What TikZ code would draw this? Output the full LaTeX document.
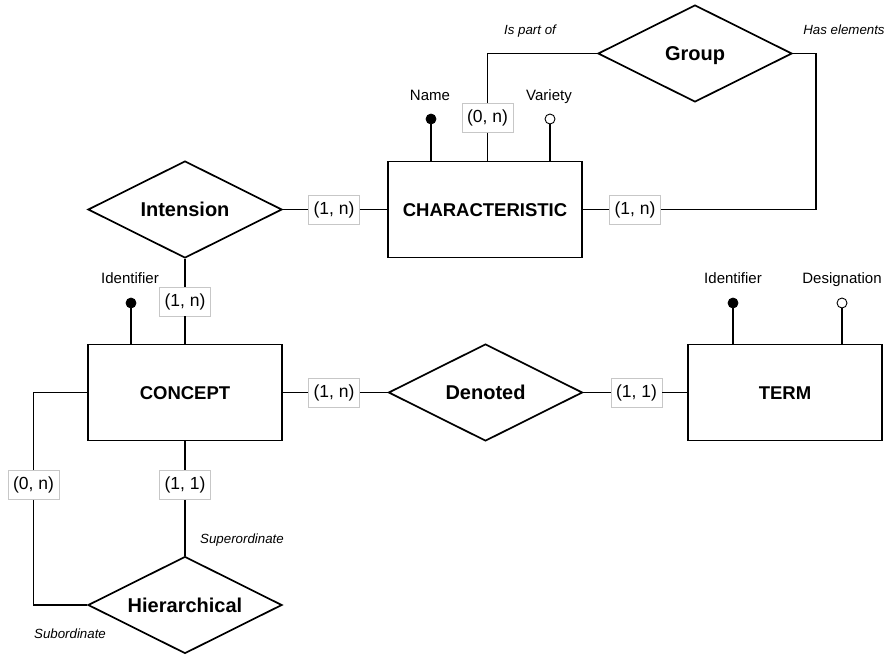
\documentclass[tikz,border=0pt]{standalone}
\usepackage{fontspec}
\setmainfont{Liberation Sans}
\usetikzlibrary{shapes.geometric}
\begin{document}
\begin{tikzpicture}[x=1pt,y=-1pt,
  conn/.style={line width=1.7pt},
  entity/.style={draw, line width=1.7pt, minimum width=194pt, minimum height=96pt, inner sep=0pt,
    font=\fontsize{18.5}{22}\selectfont\bfseries, text height=13.2pt, text depth=0pt},
  rel/.style={diamond, aspect=2, draw, line width=1.7pt, minimum width=194pt, minimum height=97pt, inner sep=0pt,
    font=\fontsize{20}{24}\selectfont\bfseries, text height=14.3pt, text depth=0pt},
  card/.style={draw=black!22, line width=0.8pt, fill=white, inner xsep=5pt, inner ysep=0pt,
    minimum height=29pt, font=\fontsize{17.5}{21}\selectfont},
  attr/.style={inner sep=0pt, font=\fontsize{15}{18}\selectfont, text height=10.7pt, text depth=0pt},
  role/.style={inner sep=0pt, font=\fontsize{13.3}{16}\selectfont\itshape, text height=9.5pt, text depth=0pt},
  keydot/.style={circle, draw=black, fill=black, line width=0.8pt, inner sep=0pt, minimum size=10pt},
  optdot/.style={circle, draw=black, fill=white, line width=0.9pt, inner sep=0pt, minimum size=10pt}
]
\useasboundingbox (0,0) rectangle (888,656);
\fill[white] (0,0) rectangle (888,656);

% entities and relationships
\node[entity] (char) at (485,209.5) {CHARACTERISTIC};
\node[entity] (concept) at (185,392.5) {CONCEPT};
\node[entity] (term) at (785,392.5) {TERM};
\node[rel] (group) at (695,53.5) {Group};
\node[rel] (intension) at (185,209.5) {Intension};
\node[rel] (denoted) at (485.5,392.5) {Denoted};
\node[rel] (hier) at (185,605) {Hierarchical};

% cardinalities
\node[card] (c1) at (334,209.5) {(1, n)};
\node[card] (c2) at (487.5,118) {(0, n)};
\node[card] (c3) at (635,209.5) {(1, n)};
\node[card] (c4) at (185,301.5) {(1, n)};
\node[card] (c5) at (334,392.5) {(1, n)};
\node[card] (c6) at (636.5,392.5) {(1, 1)};
\node[card] (c7) at (33.5,485) {(0, n)};
\node[card] (c8) at (185,485) {(1, 1)};

% connectors
\draw[conn] (intension.east) -- (c1.west);
\draw[conn] (c1.east) -- (char.west);
\draw[conn] (c2.south) -- (c2.south |- char.north);
\draw[conn] (c2.north) |- (group.west);
\draw[conn] (group.east) -- ++(23,0) |- (c3.east);
\draw[conn] (c3.west) -- (char.east);
\draw[conn] (intension.south) -- (c4.north);
\draw[conn] (c4.south) -- (concept.north);
\draw[conn] (concept.east) -- (c5.west);
\draw[conn] (c5.east) -- (denoted.west);
\draw[conn] (denoted.east) -- (c6.west);
\draw[conn] (c6.east) -- (term.west);
\draw[conn] (concept.west) -| (c7.north);
\draw[conn] (c7.south) |- (hier.west);
\draw[conn] (concept.south) -- (c8.north);
\draw[conn] (c8.south) -- (hier.north);

% attributes
\node[keydot] (namedot) at (431,119) {};
\node[attr] (name) at (430,95) {Name};
\draw[conn] (namedot) -- (namedot |- char.north);
\node[optdot] (vardot) at (550,119) {};
\node[attr] (variety) at (549,95) {Variety};
\draw[conn] (vardot) -- (vardot |- char.north);

\node[keydot] (cidot) at (131,303) {};
\node[attr] (cid) at (130,278.5) {Identifier};
\draw[conn] (cidot) -- (cidot |- concept.north);

\node[keydot] (tidot) at (733,303) {};
\node[attr] (tid) at (733,278.5) {Identifier};
\draw[conn] (tidot) -- (tidot |- term.north);
\node[optdot] (tddot) at (842,303) {};
\node[attr] (tdes) at (842,278.5) {Designation};
\draw[conn] (tddot) -- (tddot |- term.north);

% roles
\node[role] (r1) at (530,29.5) {Is part of};
\node[role] (r2) at (844,29.5) {Has elements};
\node[role] (r3) at (242,538.5) {Superordinate};
\node[role] (r4) at (70,633.5) {Subordinate};
\end{tikzpicture}
\end{document}
